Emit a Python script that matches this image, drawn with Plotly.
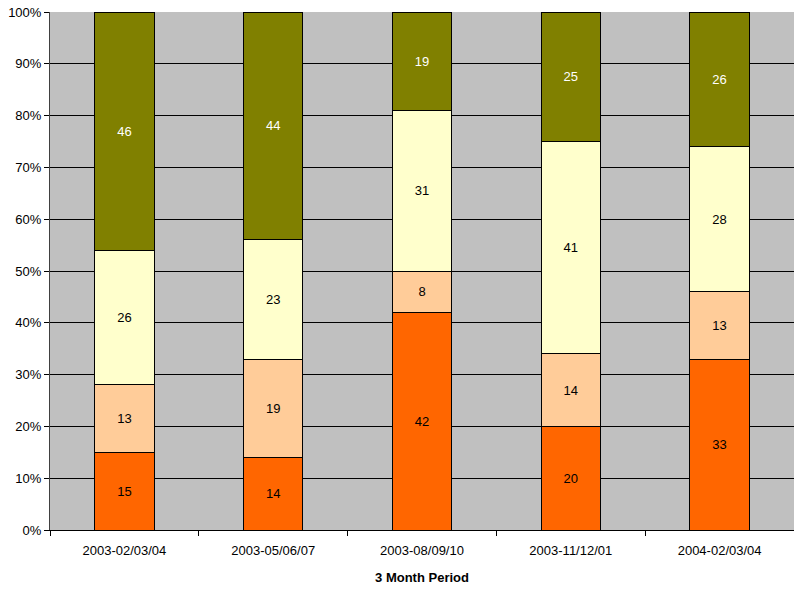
import plotly.graph_objects as go

categories = ["2003-02/03/04", "2003-05/06/07", "2003-08/09/10", "2003-11/12/01", "2004-02/03/04"]
series_names = ["S1", "S2", "S3", "S4"]
s1 = [15, 14, 42, 20, 33]
s2 = [13, 19, 8, 14, 13]
s3 = [26, 23, 31, 41, 28]
s4 = [46, 44, 19, 25, 26]
colors = ["#FF6600", "#FFCC99", "#FFFFCC", "#808000"]
text_colors = ["black", "black", "black", "white"]

fig = go.Figure()
for name, vals, c, tc in zip(series_names, [s1, s2, s3, s4], colors, text_colors):
    fig.add_trace(go.Bar(
        x=categories, y=vals, name=name,
        marker=dict(color=c, line=dict(color="black", width=1)),
        text=[str(v) for v in vals], textposition="inside", insidetextanchor="middle",
        textfont=dict(color=tc, size=13, family="Liberation Sans, Arial"),
        constraintext="none",
    ))

fig.update_layout(
    barmode="stack", barnorm="percent", bargap=0.6,
    width=794, height=590,
    margin=dict(l=50, r=0, t=12, b=60),
    paper_bgcolor="white", plot_bgcolor="#C0C0C0",
    showlegend=False,
    font=dict(family="Liberation Sans, Arial", size=13, color="black"),
)
fig.update_xaxes(
    type="category", tickson="boundaries", ticks="outside", ticklen=5, tickcolor="black",
    showline=True, linecolor="black", linewidth=1, showgrid=False,
    ticklabelstandoff=8,
    title=dict(text="<b>3 Month Period</b>", font=dict(size=13), standoff=16),
    tickfont=dict(size=13),
)
fig.update_yaxes(
    range=[0, 100], dtick=10, ticksuffix="%", ticks="outside", ticklen=5, tickcolor="black",
    showline=True, linecolor="#404040", linewidth=1,
    showgrid=True, gridcolor="black", gridwidth=1, zeroline=False,
    tickfont=dict(size=13),
)

fig.write_html("out.html")
